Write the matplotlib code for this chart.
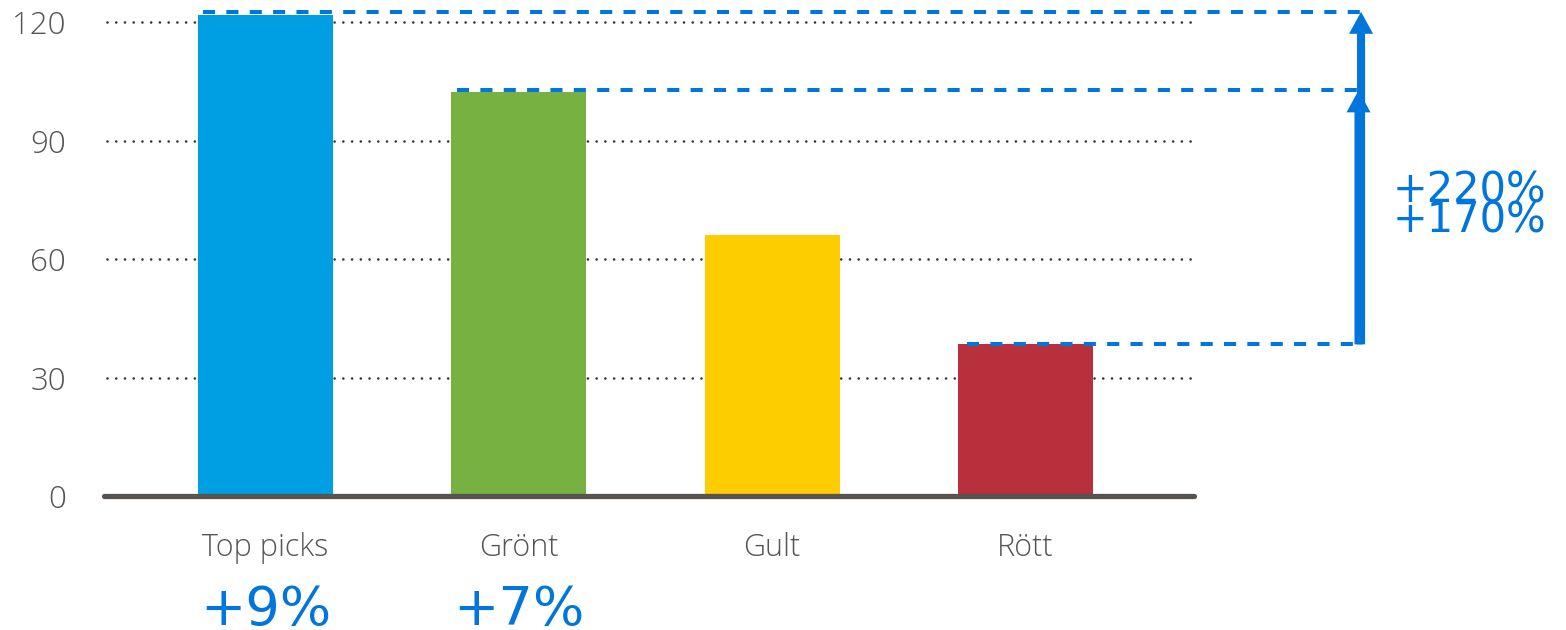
import matplotlib.pyplot as plt
from matplotlib.patches import FancyArrowPatch, ArrowStyle

categories = ['Top picks', 'Grönt', 'Gult', 'Rött']
values = [121.8, 102.2, 66.1, 38.4]
bar_colors = ['#009FE3', '#76B142', '#FDCD00', '#B7303C']
bottom_labels = ['+9%', '+7%']
yticks = [0, 30, 60, 90, 120]

# levels compared against Rött (the base)
base_level = 38.4
ref_levels = [122.6, 102.7]
ref_labels = ['+220%', '+170%']
ref_label_y = [74.2, 66.8]

blue = '#0075DB'
grey = '#555555'

fig = plt.figure(figsize=(15.66, 6.30), dpi=100)
# axes: left edge at the baseline start, bottom at the zero line
ax = fig.add_axes([102 / 1566, 134 / 630, 1 - 102 / 1566, 496 / 630])
ax.set_xlim(-0.645, 5.134)
ax.set_ylim(0, 125.6)
for s in ax.spines.values():
    s.set_visible(False)

x = list(range(len(categories)))

# dotted gridlines
for t in yticks[1:]:
    ax.plot([-0.626, 3.662], [t, t], color='#333333', lw=1.9,
            linestyle=(0, (0.01, 3.3)), dash_capstyle='round', zorder=1)

ax.bar(x, values, width=0.533, color=bar_colors, linewidth=0, zorder=2)

# baseline
ax.plot([-0.636, 3.667], [0, 0], color='#58534F', lw=3.8,
        solid_capstyle='round', zorder=3, clip_on=False)

ax.set_yticks(yticks)
ax.set_yticklabels([str(t) for t in yticks])
ax.set_xticks(x)
ax.set_xticklabels(categories)
ax.tick_params(axis='y', length=0, pad=26, labelsize=22.5, labelcolor=grey)
ax.tick_params(axis='x', length=0, pad=26, labelsize=22, labelcolor=grey)
for lab in ax.get_xticklabels() + ax.get_yticklabels():
    lab.set_family(['Open Sans', 'DejaVu Sans'])
    lab.set_fontweight('light')

for i, txt in enumerate(bottom_labels):
    ax.text(x[i], -32.7, txt, ha='center', va='baseline', fontsize=39,
            color=blue, clip_on=False)

# dashed reference lines and arrows
arrow_x = [4.325, 4.315]
base_idx = categories.index('Rött')
ax.plot([base_idx - 0.23, arrow_x[1]], [base_level, base_level], color=blue,
        lw=2.9, linestyle=(0, (3, 2.8)), zorder=4)
for k, lvl in enumerate(ref_levels):
    start = values.index(max(values)) if k == 0 else 1
    ax.plot([start - 0.245, arrow_x[k]], [lvl, lvl], color=blue, lw=2.9,
            linestyle=(0, (3, 2.8)), zorder=4)
    arr = FancyArrowPatch((arrow_x[k], base_level), (arrow_x[k], lvl),
                          arrowstyle=ArrowStyle.Simple(head_length=15.8,
                                                       head_width=17.3,
                                                       tail_width=5.8),
                          mutation_scale=1, color=blue, lw=0,
                          shrinkA=0, shrinkB=0, zorder=5)
    ax.add_patch(arr)
    ax.text(4.451, ref_label_y[k], ref_labels[k], ha='left', va='baseline',
            fontsize=30, color=blue)

fig.savefig('out.png', dpi=100)
